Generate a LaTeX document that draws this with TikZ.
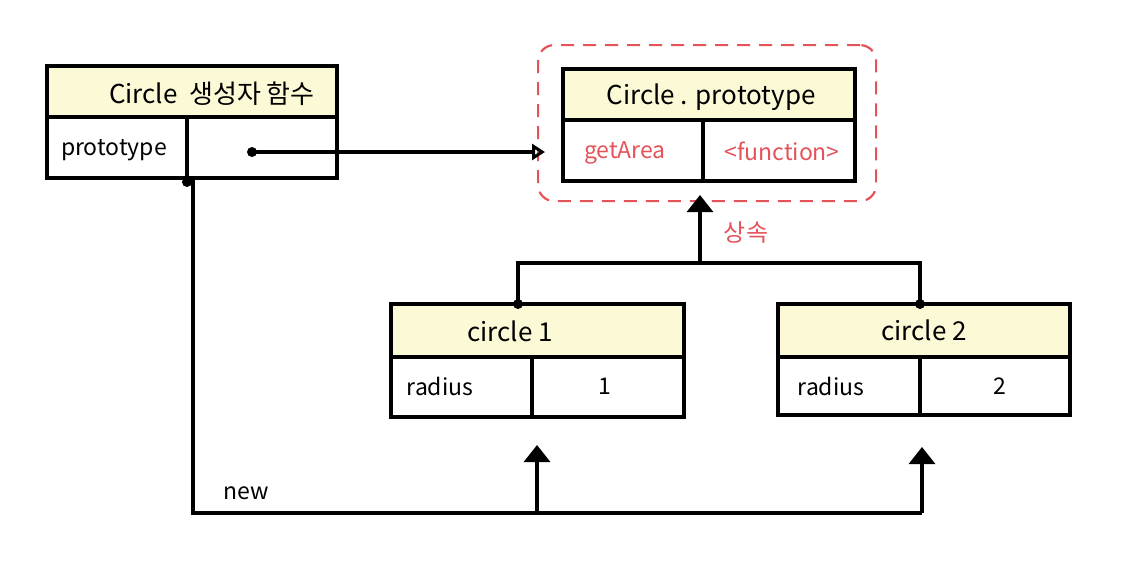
\documentclass[tikz,border=0pt]{standalone}
\usepackage{fontspec}
\setmainfont{Noto Sans CJK KR}
\usetikzlibrary{arrows.meta}
\definecolor{hdrfill}{HTML}{FCF9D6}
\definecolor{redink}{HTML}{E5535A}
\tikzset{
  boxline/.style={draw=black, line width=3.2pt},
  hdr/.style={boxline, fill=hdrfill, anchor=north west, inner sep=0pt, outer sep=0pt},
  cellbox/.style={boxline, fill=white, anchor=north west, inner sep=0pt, outer sep=0pt},
  htext/.style={font=\fontsize{26}{28}\selectfont, inner sep=0pt},
  ctext/.style={font=\fontsize{23}{25}\selectfont, inner sep=0pt},
  wire/.style={draw=black, line width=3.2pt},
  filledtip/.style={-{Triangle[length=17pt,width=26pt]}},
  opentip/.style={-{Triangle[open,length=13pt,width=16pt,line width=3pt]}},
  dotmark/.style={fill=black},
}
\begin{document}
\begin{tikzpicture}[x=1pt,y=-1pt]
\useasboundingbox (0,0) rectangle (1121,574);
% red dashed group
\node[draw=redink, dashed, dash pattern=on 13pt off 9pt, line width=2.2pt, rounded corners=16pt,
      minimum width=338pt, minimum height=156pt, anchor=north west, inner sep=0pt] (grp) at (537,44) {};
% Box A
\node[hdr, minimum width=290pt, minimum height=51pt] (Ahead) at (47,66) {};
\node[cellbox, minimum width=140pt, minimum height=61pt] (Akey) at (Ahead.south west) {};
\node[cellbox, minimum width=150pt, minimum height=61pt] (Aval) at (Akey.north east) {};
\node[htext] (Atitle) at (212,94) {Circle\ \ 생성자 함수};
\node[ctext] (Aktext) at (114,150) {prototype};
% Box B
\node[hdr, minimum width=292pt, minimum height=51pt] (Bhead) at (563,69) {};
\node[cellbox, minimum width=140pt, minimum height=61pt] (Bkey) at (Bhead.south west) {};
\node[cellbox, minimum width=152pt, minimum height=61pt] (Bval) at (Bkey.north east) {};
\node[htext] (Btitle) at (711,97) {Circle . prototype};
\node[ctext, text=redink] (Bktext) at (625,153) {getArea};
\node[ctext, text=redink] (Bvtext) at (782,151) {<function>};
% circle 1
\node[hdr, minimum width=293pt, minimum height=53pt] (Chead) at (391,304) {};
\node[cellbox, minimum width=141pt, minimum height=60pt] (Ckey) at (Chead.south west) {};
\node[cellbox, minimum width=152pt, minimum height=60pt] (Cval) at (Ckey.north east) {};
\node[htext] (Ctitle) at (510,331) {circle 1};
\node[ctext] (Cktext) at (440,386) {radius};
\node[ctext] (Cvtext) at (605,386) {1};
% circle 2
\node[hdr, minimum width=292pt, minimum height=53pt] (Dhead) at (778,304) {};
\node[cellbox, minimum width=142pt, minimum height=58pt] (Dkey) at (Dhead.south west) {};
\node[cellbox, minimum width=150pt, minimum height=58pt] (Dval) at (Dkey.north east) {};
\node[htext] (Dtitle) at (924,330) {circle 2};
\node[ctext] (Dktext) at (831,386) {radius};
\node[ctext] (Dvtext) at (1000,386) {2};
% prototype link
\coordinate (Adot) at (252,152);
\fill[dotmark] (Adot) circle (5pt);
\draw[wire, opentip, shorten >=18pt] (Adot) -- (Adot -| Bkey.west);
% inheritance
\coordinate (c1top) at (518,304);
\coordinate (c2top) at (920,304);
\coordinate (junc) at (700,263);
\fill[dotmark] (c1top) circle (5pt);
\fill[dotmark] (c2top) circle (5pt);
\draw[wire] (c1top) |- (junc) -| (c2top);
\draw[wire, filledtip, shorten >=14pt] (junc) -- (junc |- Bkey.south);
\node[font=\fontsize{24}{26}\selectfont, text=redink, inner sep=0pt] (inh) at (746,233) {상속};
% new
\coordinate (Anew) at (187,182);
\fill[dotmark] (Anew) circle (5pt);
\coordinate (corner) at (193,513);
\coordinate (c1in) at (537,445);
\coordinate (c2in) at (922,447);
\draw[wire] (Anew) -- (Anew |- Akey.south) -- ++(6,0) -- (corner) -- (c2in |- corner);
\draw[wire, filledtip] (c1in |- corner) -- (c1in);
\draw[wire, filledtip] (c2in |- corner) -- (c2in);
\node[ctext] (newlbl) at (246,493) {new};
\end{tikzpicture}
\end{document}
